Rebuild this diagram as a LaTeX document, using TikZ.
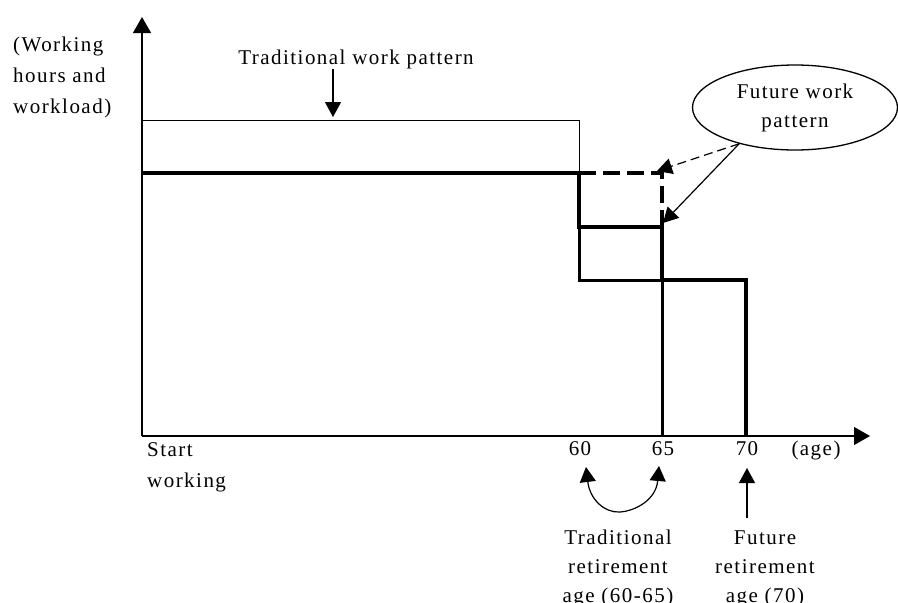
\documentclass[tikz,border=0pt]{standalone}
\usepackage{fontspec}
\setmainfont{Liberation Serif}[LetterSpace=7]
\usetikzlibrary{arrows.meta,shapes.geometric}
\begin{document}
\begin{tikzpicture}[x=1pt,y=-1pt,
  lab/.style={font=\fontsize{21}{30}\selectfont, inner sep=0pt},
  axisline/.style={line width=1.2pt, -{Triangle[length=16pt,width=18pt]}},
  tipline/.style={line width=1.2pt, -{Triangle[length=15pt,width=16pt]}},
  tradline/.style={line width=1pt},
  medline/.style={line width=3pt},
  futline/.style={line width=4pt},
  futdash/.style={line width=4pt, dash pattern=on 17pt off 7pt},
]
\useasboundingbox (0,0) rectangle (898,603);
% axes
\coordinate (O) at (142,436);
\coordinate (ytop) at (142,17);
\coordinate (xend) at (870,436);
% curves of the chart
\draw[tradline] (142,120) -- (579,120) -- (579,173);
\draw[medline] (579,227) -- (579,280) -- (662,280) -- (662,436);
\draw[futline] (142,173) -- (579,173) -- (579,227) -- (662,227) -- (662,280) -- (746,280) -- (746,436);
\draw[futdash] (579,173) -- (662,173) -- (662,227);
\draw[axisline] (O) -- (ytop);
\draw[axisline] (O) -- (xend);
% labels
\node[lab, font=\fontsize{21}{31}\selectfont, align=left, anchor=base west] (ylab) at (13,113) {(Working\\hours and\\workload)};
\node[lab, anchor=base] (trad) at (356,64) {Traditional work pattern};
\node[ellipse, draw, line width=1.3pt, minimum width=205pt, minimum height=85pt, inner sep=0pt,
      font=\fontsize{21}{29}\selectfont, align=center] (fut) at (795,107.5) {Future work\\pattern};
\node[lab, font=\fontsize{21}{31}\selectfont, align=left, anchor=base west] (start) at (147,487) {Start\\working};
\node[lab, anchor=base] (a60) at (580,455) {60};
\node[lab, anchor=base] (a65) at (663,455) {65};
\node[lab, anchor=base] (a70) at (747,455) {70};
\node[lab, anchor=base] (age) at (816,455) {(age)};
\node[lab, font=\fontsize{21}{29}\selectfont, align=center, anchor=base] (tr) at (618,602) {Traditional\\retirement\\age (60-65)};
\node[lab, font=\fontsize{21}{29}\selectfont, align=center, anchor=base] (fr) at (765,602) {Future\\retirement\\age (70)};
% arrows
\coordinate (tradstart) at (333,69);
\coordinate (tradend) at (333,117);
\draw[tipline] (tradstart) -- (tradend);
\coordinate (dashend) at (657,171);
\coordinate (solidend) at (663,223);
\draw[tipline, dash pattern=on 9pt off 5pt] (fut.213) -- (dashend);
\draw[tipline] (fut.213) -- (solidend);
\coordinate (t60) at (586,467);
\coordinate (cb) at (620,512);
\coordinate (t65) at (659,466);
\draw[line width=1.2pt, {Triangle[length=15pt,width=16pt]}-{Triangle[length=15pt,width=16pt]}]
  (t60) .. controls (590,500) and (605,513) .. (cb) .. controls (635,511) and (656,500) .. (t65);
\coordinate (u70) at (747,518);
\coordinate (t70) at (747,468);
\draw[tipline] (u70) -- (t70);
\end{tikzpicture}
\end{document}
